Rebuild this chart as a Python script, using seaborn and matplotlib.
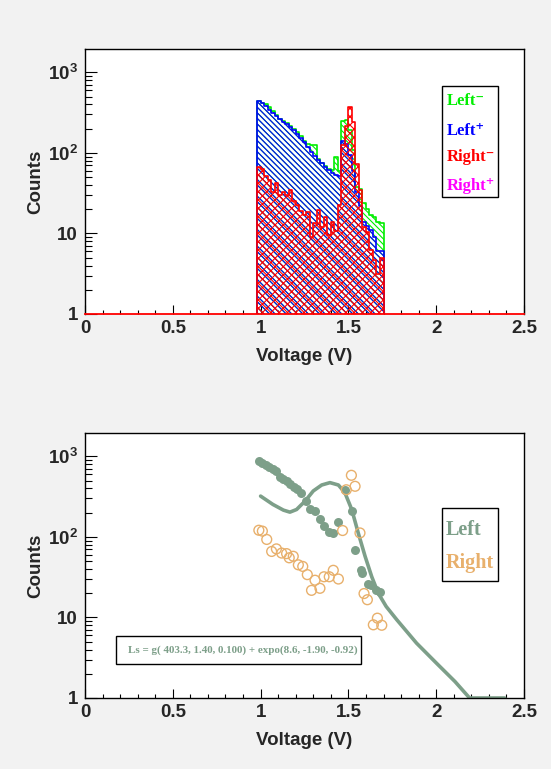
import numpy as np
import pandas as pd
import matplotlib
matplotlib.use("Agg")
import matplotlib.pyplot as plt
from matplotlib.patches import Rectangle
from matplotlib.ticker import FixedLocator, MultipleLocator, FixedFormatter
import seaborn as sns

# ---------------- data ----------------
bin_start = 0.98
bin_width = 0.02
left_minus = [447, 414, 400, 370, 330, 295, 265, 250, 232, 215, 200, 180, 160, 142, 128, 126, 124,
              84, 76, 68, 64, 62, 90, 60, 250, 255, 190, 110, 38, 36, 24, 20, 17, 16, 14, 13.5]
left_plus = [447, 414, 384, 345, 315, 290, 262, 245, 228, 210, 192, 172, 152, 136, 120, 104, 92,
             82, 74, 66, 61, 57, 53, 51, 140, 130, 95, 60, 33, 22, 14, 12.5, 11, 9, 6, 6]
right_minus = [66, 63, 51, 46, 33, 42, 30, 33, 30, 35, 25, 22.6, 19, 17, 18.5, 9.1, 13.3, 19.6,
               12, 16, 9.6, 14, 10.6, 22.6, 125, 215, 370, 240, 72, 35, 12, 10.5, 6.2, 4.7, 3.1, 5]

left_pts_v = [0.99, 1.01, 1.03, 1.05, 1.07, 1.09, 1.11, 1.13, 1.15, 1.17, 1.19, 1.21, 1.23, 1.26,
              1.28, 1.31, 1.34, 1.36, 1.39, 1.41, 1.44, 1.48, 1.52, 1.54, 1.57, 1.58, 1.61, 1.63,
              1.66, 1.68]
left_pts_c = [880, 830, 790, 740, 700, 660, 560, 520, 490, 460, 420, 390, 350, 278, 219, 209, 165,
              136, 115, 112, 152, 382, 209, 68, 39, 36, 26, 25, 22, 20.5]

right_pts_v = [0.99, 1.01, 1.035, 1.063, 1.09, 1.12, 1.148, 1.163, 1.186, 1.215, 1.24, 1.266, 1.29,
               1.31, 1.338, 1.361, 1.391, 1.414, 1.443, 1.467, 1.488, 1.517, 1.538, 1.566, 1.589,
               1.608, 1.642, 1.665, 1.69]
right_pts_c = [121, 118, 93, 66, 71, 63, 62, 55, 57.5, 45, 43, 34, 21.7, 29, 23, 32, 32, 38.5, 30,
               120, 385, 582, 425, 112, 19.8, 16.6, 8.1, 9.8, 8.0]

fit_v = [1.0, 1.07, 1.13, 1.167, 1.205, 1.253, 1.30, 1.348, 1.395, 1.443, 1.48, 1.519, 1.556, 1.595,
         1.633, 1.67, 1.715, 1.775, 1.888, 2.002, 2.107, 2.19, 2.39]
fit_c = [321, 253, 215, 203, 219, 278, 372, 441, 472, 441, 354, 219, 112, 57.5, 32, 20, 13.7, 9.4,
         4.8, 2.7, 1.6, 1.0, 1.0]

formula = "Ls = g( 403.3, 1.40, 0.100) + expo(8.6, -1.90, -0.92)"
x_ticks = [0, 0.5, 1, 1.5, 2, 2.5]
x_tick_labels = ["0", "0.5", "1", "1.5", "2", "2.5"]
y_ticks = [1, 10, 100, 1000]
y_tick_labels = ["1", "10", r"$\mathbf{10^{2}}$", r"$\mathbf{10^{3}}$"]

# ---------------- style ----------------
sns.set_style("white")
plt.rcParams["font.family"] = ["Liberation Sans", "DejaVu Sans"]
plt.rcParams["mathtext.fontset"] = "custom"
plt.rcParams["mathtext.rm"] = "Liberation Sans:bold"
plt.rcParams["mathtext.bf"] = "Liberation Sans:bold"
plt.rcParams["hatch.linewidth"] = 0.8

BG = "#f2f2f2"
GREEN = "#00ee00"
BLUE = "#0000ff"
RED = "#ff0000"
MAG = "#ff00ff"
FITG = "#7d9f89"
ORANGE = "#e8b06c"

W, H = 551, 769
fig = plt.figure(figsize=(W / 100, H / 100), dpi=100, facecolor=BG)


def px_axes(x0, y0, x1, y1):
    return fig.add_axes([x0 / W, 1 - y1 / H, (x1 - x0) / W, (y1 - y0) / H])


def style_axes(ax):
    ax.set_facecolor("white")
    ax.set_xlim(0, 2.5)
    ax.set_yscale("log")
    ax.set_ylim(1, 1950)
    ax.xaxis.set_major_locator(FixedLocator(x_ticks))
    ax.xaxis.set_major_formatter(FixedFormatter(x_tick_labels))
    ax.xaxis.set_minor_locator(MultipleLocator(0.1))
    ax.yaxis.set_major_locator(FixedLocator(y_ticks))
    ax.yaxis.set_major_formatter(FixedFormatter(y_tick_labels))
    ax.yaxis.set_minor_locator(matplotlib.ticker.LogLocator(base=10, subs=np.arange(2, 10)))
    ax.yaxis.set_minor_formatter(matplotlib.ticker.NullFormatter())
    ax.tick_params(axis="both", which="both", direction="in", top=False, right=False,
                   bottom=True, left=True, labelsize=13.5, color="black")
    ax.tick_params(axis="x", which="major", length=6.5, width=0.8, pad=4)
    ax.tick_params(axis="x", which="minor", length=3.1, width=0.8)
    ax.tick_params(axis="y", which="major", length=8.6, width=0.8, pad=5)
    ax.tick_params(axis="y", which="minor", length=5, width=0.8)
    for lab in ax.get_xticklabels() + ax.get_yticklabels():
        lab.set_fontweight("bold")
    for s in ax.spines.values():
        s.set_color("black")
        s.set_linewidth(1.0)
    ax.set_xlabel("Voltage (V)", fontsize=13.5, fontweight="bold")
    ax.set_ylabel("Counts", fontsize=13.5, fontweight="bold")
    ax.yaxis.set_label_coords(-0.093, 0.5)
    ax.xaxis.set_label_coords(0.5, -0.128)


# ---------------- top panel ----------------
ax1 = px_axes(85, 49, 524, 314)
edges = [float(e) for e in bin_start + bin_width * np.arange(len(left_plus) + 1)]
centers = [e + bin_width / 2 for e in edges[:-1]]

for vals, col, hatch in [(left_minus, GREEN, "\\" * 6), (left_plus, BLUE, "\\" * 6),
                         (right_minus, RED, "xxxx")]:
    df = pd.DataFrame({"v": centers, "w": vals})
    sns.histplot(data=df, x="v", weights="w", bins=edges, element="step", fill=True,
                 color=col, ax=ax1, alpha=1)
    poly = ax1.collections[-1]
    poly.set_facecolor("none")
    poly.set_edgecolor(col)
    poly.set_hatch(hatch)
    poly.set_linewidth(1.2)

style_axes(ax1)
ax1.spines["bottom"].set_color(RED)
ax1.spines["bottom"].set_linewidth(1.3)

# top legend
fig.patches.append(Rectangle((442 / W, 1 - 196.7 / H), 56 / W, 111 / H, transform=fig.transFigure,
                             facecolor="white", edgecolor="black", linewidth=1.0))
leg_items = [("Left\u207b", GREEN, 101), ("Left\u207a", BLUE, 131), ("Right\u207b", RED, 157),
             ("Right\u207a", MAG, 186)]
for txt, col, yy in leg_items:
    fig.text(446.5 / W, 1 - yy / H, txt, color=col, fontsize=12, fontweight="bold",
             family=["Liberation Serif", "DejaVu Serif"], va="center", ha="left")

# ---------------- bottom panel ----------------
ax2 = px_axes(85, 433, 524, 698)
sns.lineplot(x=fit_v, y=fit_c, sort=False, estimator=None, color=FITG, linewidth=2.6, ax=ax2)
sns.scatterplot(x=left_pts_v, y=left_pts_c, color=FITG, s=42, linewidth=0, ax=ax2, zorder=3)
sns.scatterplot(x=right_pts_v, y=right_pts_c, s=50, ax=ax2, zorder=4)
rc = ax2.collections[-1]
rc.set_facecolor("none")
rc.set_edgecolor(ORANGE)
rc.set_linewidth(1.0)
style_axes(ax2)

# bottom legend
fig.patches.append(Rectangle((442 / W, 1 - 580.7 / H), 56 / W, 73 / H, transform=fig.transFigure,
                             facecolor="white", edgecolor="black", linewidth=1.0))
fig.text(446 / W, 1 - 530 / H, "Left", color=FITG, fontsize=14.5, fontweight="bold",
         family="Liberation Serif", va="center", ha="left")
fig.text(446 / W, 1 - 563 / H, "Right", color=ORANGE, fontsize=14.5, fontweight="bold",
         family="Liberation Serif", va="center", ha="left")

# formula box
fig.patches.append(Rectangle((116 / W, 1 - 664 / H), 245 / W, 28.3 / H, transform=fig.transFigure,
                             facecolor="white", edgecolor="black", linewidth=1.0, zorder=5))
fig.text(243 / W, 1 - 650 / H, formula, color=FITG, fontsize=7.9, fontweight="bold",
         family="Liberation Serif", va="center", ha="center", zorder=6)

fig.savefig("out.png", dpi=100, facecolor=BG)
